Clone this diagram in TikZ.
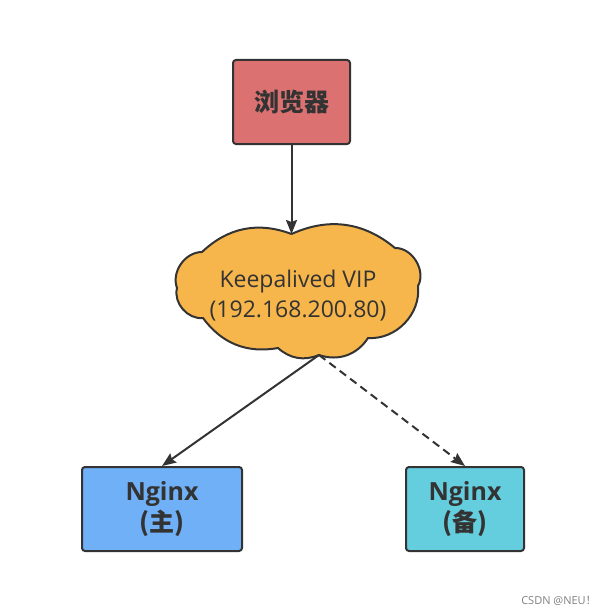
\documentclass[tikz,border=0pt]{standalone}
\usepackage{fontspec}
\setmainfont{Open Sans}
\newfontfamily\cjk{Noto Sans CJK SC}
\usetikzlibrary{arrows.meta}

\definecolor{linegray}{HTML}{333333}
\definecolor{textgray}{HTML}{333333}
\definecolor{browserred}{HTML}{DC7171}
\definecolor{vipyellow}{HTML}{F7B64B}
\definecolor{mainblue}{HTML}{6FB0F7}
\definecolor{backupcyan}{HTML}{64CEDF}

\begin{document}
\begin{tikzpicture}[x=0.5pt, y=-0.5pt]
\useasboundingbox (0, 0) rectangle (610, 610);

\begin{scope}[every node/.style={draw=linegray, line width=1pt, rounded corners=1.5pt, inner sep=0pt, align=center, text=textgray, font=\fontsize{12.5}{15.5}\selectfont\bfseries}]
    \node (browser) at (291.5, 102) [fill=browserred, minimum width=58.5pt, minimum height=42pt] {\cjk 浏览器};

    \node (main) at (162, 509) [fill=mainblue, minimum width=80pt, minimum height=42pt] {Nginx\\{\cjk (主)}};

    \node (backup) at (465, 509) [fill=backupcyan, minimum width=59pt, minimum height=42pt] {Nginx\\{\cjk (备)}};
\end{scope}

% cloud outline, puff by puff
\coordinate (viptop) at (291.5, 234);
\coordinate (fork) at (319, 355);
\draw [draw=linegray, line width=1pt, fill=vipyellow]
    (viptop) to[bend left=32] (395, 248)
    to[bend left=60] (418, 286)
    to[bend left=50] (368, 338)
    to[bend left=38] (fork)
    to[bend left=32] (278, 348)
    to[bend left=32] (203, 318)
    to[bend left=55] (177, 288)
    to[bend left=55] (202, 252)
    to[bend left=32] (viptop);
\node (vip) at (298, 296) [align=center, text=textgray, font=\fontsize{11.5}{15}\selectfont] {Keepalived VIP\\(192.168.200.80)};

\begin{scope}[>={Stealth[length=7pt, width=5.5pt, inset=1pt]},
              every edge/.style={draw=linegray, line width=1pt}]
    \path [->] (browser) edge (viptop);
    \path [->] (fork) edge (main.north);
    \path [->, dash pattern=on 4pt off 2.5pt] (fork) edge (backup.north);
\end{scope}

\node (mark) at (559, 601) [text=gray, font=\fontsize{5.5}{6}\selectfont] {CSDN @NEU\cjk ！};
\end{tikzpicture}
\end{document}
